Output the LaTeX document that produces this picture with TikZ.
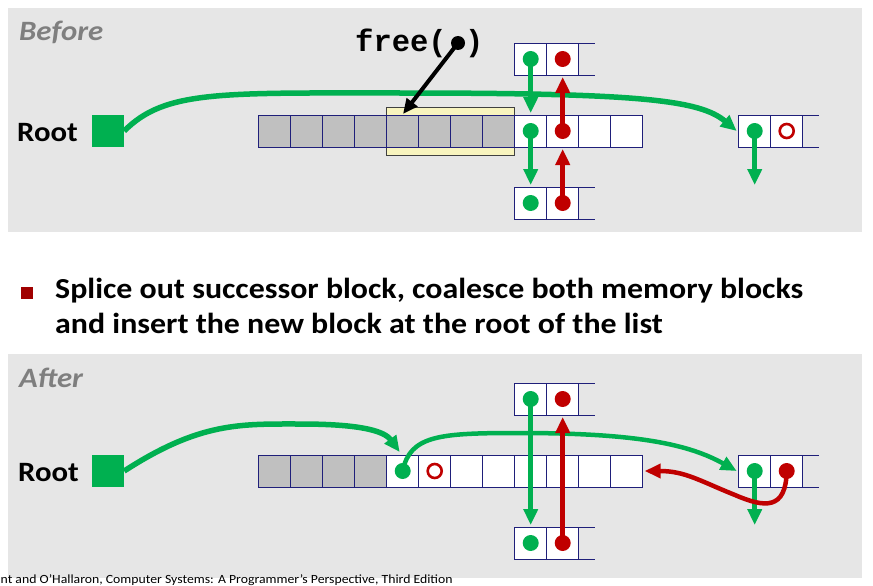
\documentclass[tikz,border=0pt]{standalone}
\usepackage{fontspec}
\newfontfamily\calib{Carlito}[FakeStretch=1.1]
\newfontfamily\codefont{Liberation Mono}
\usetikzlibrary{positioning, arrows.meta}
\definecolor{grn}{HTML}{00B050}
\definecolor{rd}{HTML}{C00000}
\definecolor{navy}{HTML}{1F1F7A}
\definecolor{panelgray}{HTML}{E6E6E6}
\definecolor{cellgray}{HTML}{C0C0C0}
\definecolor{hiyellow}{HTML}{F8F4BE}
\definecolor{titlegray}{HTML}{7F7F7F}
\definecolor{bulletred}{HTML}{A00000}
\tikzset{
  cell/.style={draw=navy, line width=0.8pt, fill=white, minimum width=32pt, minimum height=32pt, inner sep=0pt, outer sep=0pt},
  graycell/.style={cell, fill=cellgray},
  openend/.style={draw=navy, line width=0.8pt},
  gdot/.style={circle, fill=grn, minimum size=16pt, inner sep=0pt},
  rdot/.style={circle, fill=rd, minimum size=16pt, inner sep=0pt},
  rring/.style={circle, draw=rd, line width=2.6pt, minimum size=14pt, inner sep=0pt},
  kdot/.style={circle, fill=black, minimum size=14pt, inner sep=0pt},
  garrow/.style={draw=grn, line width=4.5pt, -{Triangle[width=14pt,length=16pt]}},
  rarrow/.style={draw=rd, line width=4.5pt, -{Triangle[width=14pt,length=16pt]}},
  karrow/.style={draw=black, line width=4pt, -{Triangle[width=13pt,length=15pt]}},
  rootsq/.style={fill=grn, minimum size=32pt, inner sep=0pt},
  rootlbl/.style={font=\calib\bfseries\fontsize{28}{34}\selectfont, anchor=base west, inner sep=0pt},
  paneltitle/.style={font=\calib\bfseries\itshape\fontsize{28}{34}\selectfont, text=titlegray, anchor=base west, inner sep=0pt},
  bullettext/.style={font=\calib\bfseries\fontsize{29}{35}\selectfont, anchor=base west, inner sep=0pt}
}
\begin{document}
\begin{tikzpicture}[x=1pt, y=-1pt]
\useasboundingbox (0,0) rectangle (873,586);
% before
\fill[panelgray] (8,8) rectangle (862,232);
\node[paneltitle] (before) at (19,41) {Before};
\node[rootlbl] (root1) at (17,141) {Root};
\node[rootsq] (rsq1) at (108,131) {};
\node[draw=black!75, line width=0.8pt, fill=hiyellow, minimum width=128pt, minimum height=48pt] (hl) at (450.7,131) {};
\foreach \i in {1,...,8} \node[graycell] (b\i) at ({242.7+32*\i},131) {};
\foreach \i in {9,...,12} \node[cell] (b\i) at ({242.7+32*\i},131) {};
\node[cell, above=40pt of b9] (t1) {};
\node[cell, right=0pt of t1] (t2) {};
\draw[openend] (t2.north east) -- ++(16,0) (t2.south east) -- ++(16,0);
\node[cell, below=40pt of b9] (u1) {};
\node[cell, right=0pt of u1] (u2) {};
\draw[openend] (u2.north east) -- ++(16,0) (u2.south east) -- ++(16,0);
\node[cell, right=96pt of b12] (r1) {};
\node[cell, right=0pt of r1] (r2) {};
\draw[openend] (r2.north east) -- ++(16,0) (r2.south east) -- ++(16,0);
\draw[garrow, line width=5.5pt] (rsq1.east) .. controls (165,90) and (220,93) .. (400,93) .. controls (640,93) and (700,100) .. ([xshift=-2pt]r1.west);
\coordinate (rnext1) at ([yshift=-38pt]r1.south);
\draw[garrow] (t1.center) -- ([yshift=2pt]b9.north);
\draw[rarrow] (b10.center) -- ([yshift=-2pt]t2.south);
\draw[garrow] (b9.center) -- ([yshift=2pt]u1.north);
\draw[rarrow] (u2.center) -- ([yshift=-2pt]b10.south);
\draw[garrow] (r1.center) -- (rnext1);
\node[gdot] (td1) at (t1) {};
\node[rdot] (td2) at (t2) {};
\node[gdot] (bd9) at (b9) {};
\node[rdot] (bd10) at (b10) {};
\node[gdot] (ud1) at (u1) {};
\node[rdot] (ud2) at (u2) {};
\node[gdot] (rd1) at (r1) {};
\node[rring] (rd2) at (r2) {};
% free call
\node[font=\codefont\bfseries\fontsize{30.5}{36}\selectfont, anchor=base west, inner sep=0pt] (freecall) at (355,52) {free(\hphantom{x})};
\node[kdot] (fdot) at (458,43) {};
\coordinate (freetip) at (403,114);
\draw[karrow] (fdot.center) -- (freetip);
% bullet
\node[fill=bulletred, minimum size=12pt, inner sep=0pt] (bullet) at (26.5,293) {};
\node[bullettext] (line1) at (55,298) {Splice out successor block, coalesce both memory blocks};
\node[bullettext] (line2) at (55,333) {and insert the new block at the root of the list};
% after
\fill[panelgray] (8,354) rectangle (862,578);
\node[paneltitle] (after) at (19,387) {After};
\node[rootlbl] (root2) at (18,481) {Root};
\node[rootsq] (rsq2) at (108,471) {};
\foreach \i in {1,...,4} \node[graycell] (a\i) at ({242.7+32*\i},471) {};
\foreach \i in {5,...,12} \node[cell] (a\i) at ({242.7+32*\i},471) {};
\node[cell, above=40pt of a9] (p1) {};
\node[cell, right=0pt of p1] (p2) {};
\draw[openend] (p2.north east) -- ++(16,0) (p2.south east) -- ++(16,0);
\node[cell, below=40pt of a9] (q1) {};
\node[cell, right=0pt of q1] (q2) {};
\draw[openend] (q2.north east) -- ++(16,0) (q2.south east) -- ++(16,0);
\node[cell, right=96pt of a12] (s1) {};
\node[cell, right=0pt of s1] (s2) {};
\draw[openend] (s2.north east) -- ++(16,0) (s2.south east) -- ++(16,0);
\draw[garrow, line width=5.5pt] (rsq2.east) .. controls (200,422) and (240,424) .. (300,424) .. controls (365,424) and (385,432) .. ([xshift=-3pt,yshift=3pt]a5.north);
\draw[garrow] (a5.center) .. controls (410,435) and (440,433) .. (520,433) .. controls (640,433) and (690,445) .. ([xshift=-2pt]s1.west);
\coordinate (snext) at ([yshift=-38pt]s1.south);
\draw[garrow] (p1.center) -- ([yshift=2pt]q1.north);
\draw[rarrow] (q2.center) -- ([yshift=-2pt]p2.south);
\draw[garrow] (s1.center) -- (snext);
\draw[rarrow] (s2.center) .. controls (786,510) and (765,508) .. (735,495) .. controls (700,481) and (685,471) .. ([xshift=2pt]a12.east);
\node[gdot] (ad5) at (a5) {};
\node[rring] (ad6) at (a6) {};
\node[gdot] (pd1) at (p1) {};
\node[rdot] (pd2) at (p2) {};
\node[gdot] (qd1) at (q1) {};
\node[rdot] (qd2) at (q2) {};
\node[gdot] (sd1) at (s1) {};
\node[rdot] (sd2) at (s2) {};
% footer
\node[font=\calib\fontsize{12.5}{15}\selectfont, anchor=base west, inner sep=0pt] (credit) at (0.5,583) {nt and O’Hallaron, Computer Systems: A Programmer’s Perspective, Third Edition};
\end{tikzpicture}
\end{document}
